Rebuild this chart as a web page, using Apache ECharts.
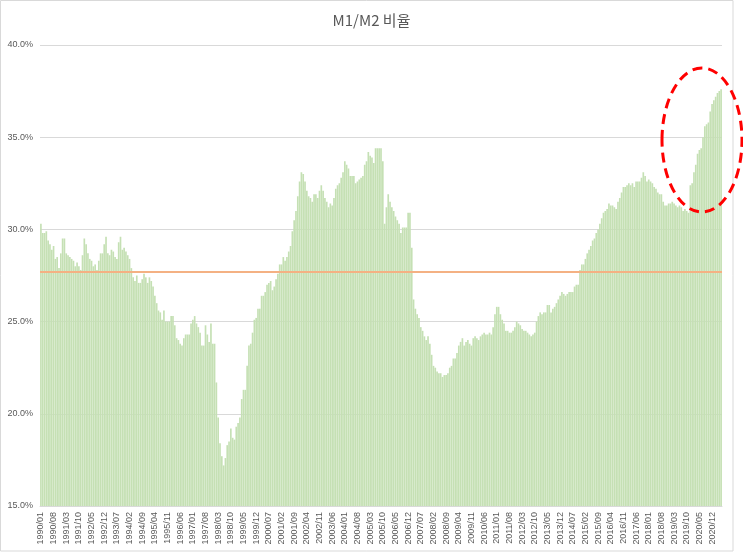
<!DOCTYPE html>
<html>
<head>
<meta charset="utf-8">
<script src="https://cdn.jsdelivr.net/npm/echarts@6/dist/echarts.min.js"></script>
<style>
  html, body { margin: 0; padding: 0; background: #fff; }
  #chart { width: 743px; height: 552px; }
</style>
</head>
<body>
<div id="chart"></div>
<script>
// M1/M2 ratio (%), monthly from 1990/01
const ratio1990s = [
  30.3, 29.8, 29.8, 29.9, 29.4, 29.2, 28.9, 29.1, 28.4, 28.5, 27.9, 28.7,
  29.5, 29.5, 28.7, 28.6, 28.5, 28.4, 28.3, 28.0, 28.2, 28.0, 27.8, 28.6,
  29.5, 29.2, 28.7, 28.4, 28.3, 28.0, 28.1, 27.8, 28.3, 28.7, 28.7, 29.2,
  29.6, 28.7, 28.6, 28.9, 28.8, 28.5, 28.4, 29.3, 29.6, 28.9, 29.0, 28.8,
  28.6, 28.4, 27.9, 27.4, 27.2, 27.5, 27.1, 27.1, 27.3, 27.6, 27.4, 27.1,
  27.4, 27.2, 26.9, 26.4, 26.0, 25.6, 25.5, 25.1, 25.6, 25.0, 25.0, 25.0,
  25.3, 25.3, 24.8, 24.1, 24.0, 23.8, 23.7, 24.1, 24.3, 24.3, 24.3, 24.9,
  25.1, 25.3, 24.9, 24.7, 24.4, 23.7, 23.7, 24.8, 24.3, 23.9, 24.9, 23.8,
  23.8, 21.7, 19.8, 18.4, 17.7, 17.2, 17.6, 18.3, 18.5, 19.2, 18.7, 18.6,
  19.3, 19.5, 19.8, 20.8, 21.3, 21.3, 22.6, 23.7, 23.8, 24.4, 25.1, 25.2
];
const ratio2000s = [
  25.7, 25.7, 26.4, 26.4, 26.6, 27.0, 27.1, 27.2, 26.7, 26.9, 27.3, 27.6,
  28.1, 28.1, 28.5, 28.3, 28.5, 28.8, 29.1, 29.9, 30.5, 31.0, 31.8, 32.6,
  33.1, 33.0, 32.6, 32.1, 31.8, 31.7, 31.5, 31.9, 31.9, 31.7, 32.1, 32.4,
  32.1, 31.7, 31.5, 31.2, 31.4, 31.3, 31.7, 32.2, 32.4, 32.5, 32.8, 33.1,
  33.7, 33.5, 33.3, 32.9, 32.9, 32.9, 32.5, 32.6, 32.7, 32.8, 32.9, 33.5,
  33.7, 34.2, 34.0, 33.9, 33.6, 34.4, 34.4, 34.4, 34.4, 33.7, 30.3, 31.2,
  31.9, 31.5, 31.2, 31.0, 30.7, 30.5, 30.3, 29.8, 30.1, 30.1, 30.1, 30.9,
  30.9, 29.0, 26.2, 25.7, 25.4, 25.2, 24.7, 24.5, 24.2, 24.0, 24.2, 23.8,
  23.2, 22.6, 22.5, 22.3, 22.2, 22.2, 22.0, 22.1, 22.1, 22.2, 22.5, 22.6,
  23.0, 23.0, 23.3, 23.7, 23.9, 24.1, 23.7, 23.9, 24.0, 23.8, 23.7, 24.1
];
const ratio2010s = [
  24.2, 24.1, 24.0, 24.2, 24.3, 24.4, 24.3, 24.3, 24.4, 24.3, 24.7, 25.4,
  25.8, 25.8, 25.4, 25.1, 24.9, 24.5, 24.5, 24.4, 24.4, 24.5, 24.7, 25.0,
  24.9, 24.8, 24.6, 24.5, 24.5, 24.4, 24.3, 24.2, 24.3, 24.4, 25.0, 25.3,
  25.5, 25.4, 25.5, 25.5, 25.9, 25.9, 25.5, 25.7, 25.8, 26.0, 26.2, 26.4,
  26.6, 26.5, 26.4, 26.5, 26.6, 26.6, 26.6, 26.9, 27.0, 27.0, 27.8, 28.1,
  28.1, 28.4, 28.7, 28.9, 29.1, 29.4, 29.5, 29.8, 30.0, 30.3, 30.6, 30.9,
  31.0, 31.1, 31.4, 31.3, 31.3, 31.2, 31.1, 31.5, 31.7, 32.0, 32.3, 32.3,
  32.4, 32.5, 32.4, 32.5, 32.3, 32.6, 32.6, 32.6, 32.8, 33.1, 32.9, 32.6,
  32.7, 32.6, 32.5, 32.3, 32.2, 32.0, 31.9, 31.9, 31.5, 31.3, 31.3, 31.4,
  31.4, 31.5, 31.4, 31.3, 31.2, 31.3, 31.2, 31.0, 31.1, 31.0, 30.9, 32.4
];
const ratio2020s = [
  32.5, 33.1, 33.5, 34.1, 34.3, 34.4, 35.0, 35.6, 35.7, 35.8, 36.4, 36.8,
  37.0, 37.2, 37.4, 37.5, 37.6
];
const averageRatio = 27.7;
const yTicks = [15, 20, 25, 30, 35, 40];

const ratios = [].concat(ratio1990s, ratio2000s, ratio2010s, ratio2020s);
const months = ratios.map((v, i) => {
  const y = 1990 + Math.floor(i / 12);
  const m = (i % 12) + 1;
  return y + '/' + (m < 10 ? '0' + m : m);
});

const chart = echarts.init(document.getElementById('chart'));
chart.setOption({
  animation: false,
  title: {
    text: 'M1/M2 비율',
    left: 'center',
    top: 8,
    textStyle: {
      fontFamily: '"Noto Sans CJK KR", "Noto Sans", sans-serif',
      fontSize: 15,
      fontWeight: 'normal',
      color: '#595959',
    },
  },
  grid: { left: 40, right: 21, top: 45, bottom: 46 },
  xAxis: {
    type: 'category',
    data: months,
    axisLine: { lineStyle: { color: '#d9d9d9' } },
    axisTick: { show: false },
    axisLabel: {
      interval: 6,
      rotate: 90,
      margin: 6,
      fontSize: 9,
      color: '#595959',
      fontFamily: '"Liberation Sans", sans-serif',
    },
  },
  yAxis: {
    type: 'value',
    min: yTicks[0],
    max: yTicks[yTicks.length - 1],
    interval: 5,
    axisLine: { show: false },
    axisTick: { show: false },
    splitLine: { lineStyle: { color: '#d9d9d9' } },
    axisLabel: {
      formatter: (v) => v.toFixed(1) + '%',
      fontSize: 9,
      color: '#595959',
      margin: 7,
      fontFamily: '"Liberation Sans", sans-serif',
    },
  },
  series: [
    {
      type: 'bar',
      data: ratios,
      barCategoryGap: '8%',
      itemStyle: { color: '#c5e0b4' },
      markLine: {
        silent: true,
        symbol: 'none',
        label: { show: false },
        lineStyle: { color: '#f4b183', width: 2, type: 'solid' },
        data: [{ yAxis: averageRatio }],
      },
    },
  ],
  graphic: [
    {
      type: 'rect',
      silent: true,
      shape: { x: 0.5, y: 0.5, width: 732.5, height: 550.5 },
      style: { fill: 'none', stroke: '#d9d9d9', lineWidth: 1 },
    },
    {
      type: 'ellipse',
      silent: true,
      z: 100,
      shape: { cx: 702, cy: 140, rx: 40, ry: 72 },
      style: { fill: 'none', stroke: '#ff0000', lineWidth: 3, lineDash: [10, 6] },
    },
  ],
});
</script>
</body>
</html>
